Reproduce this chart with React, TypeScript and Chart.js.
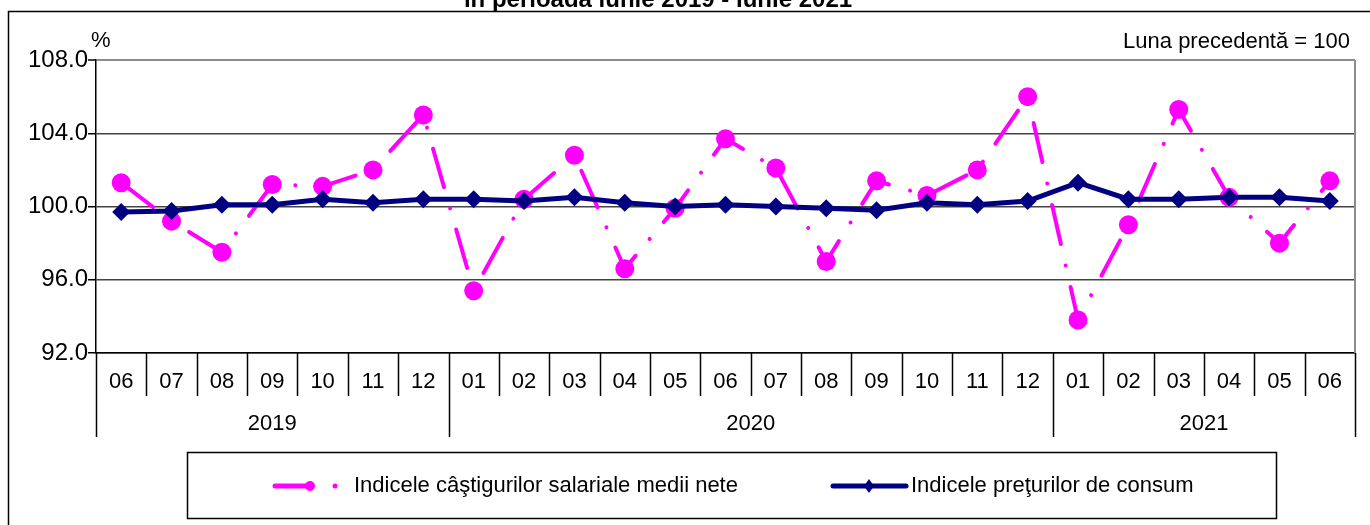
import React, { useEffect, useRef } from 'react';
import { Chart, registerables } from 'chart.js';

Chart.register(...registerables);

const FONT = '"Liberation Sans", Arial, sans-serif';

const TITLE = 'în perioada iunie 2019 - iunie 2021';
const UNIT_LABEL = '%';
const BASE_LABEL = 'Luna precedentă = 100';

const months = ['06', '07', '08', '09', '10', '11', '12', '01', '02', '03', '04', '05', '06', '07', '08', '09', '10', '11', '12', '01', '02', '03', '04', '05', '06'];
const years = ['2019', '2020', '2021'];
const yearStart = [0, 7, 19];
const yearEnd = [6, 18, 24];

const wagesLabel = 'Indicele câştigurilor salariale medii nete';
const cpiLabel = 'Indicele preţurilor de consum';

const wages = [101.3, 99.2, 97.5, 101.2, 101.1, 102.0, 105.0, 95.4, 100.4, 102.8, 96.6, 99.9, 103.7, 102.1, 97.0, 101.4, 100.6, 102.0, 106.0, 93.8, 99.0, 105.3, 100.5, 98.0, 101.4];
const cpi = [99.7, 99.75, 100.1, 100.1, 100.4, 100.2, 100.4, 100.4, 100.3, 100.5, 100.2, 100.0, 100.1, 100.0, 99.9, 99.8, 100.2, 100.1, 100.3, 101.3, 100.4, 100.4, 100.5, 100.5, 100.3];

const Y_MIN = 92;
const Y_MAX = 108;
const Y_STEP = 4;

const PINK = '#FF00FF';
const NAVY = '#000080';

const extrasPlugin = {
  id: 'extras',
  afterDraw(chart: any) {
    const { ctx, chartArea, scales } = chart;
    const x = scales.x;
    const bottom = chartArea.bottom;
    ctx.save();

    // outer frame
    ctx.strokeStyle = '#000';
    ctx.lineWidth = 1.5;
    ctx.beginPath();
    ctx.moveTo(1370, 11.5);
    ctx.lineTo(8.5, 11.5);
    ctx.lineTo(8.5, 525);
    ctx.stroke();

    // title (clipped at top)
    ctx.fillStyle = '#000';
    ctx.font = `bold 24px ${FONT}`;
    ctx.textAlign = 'center';
    ctx.textBaseline = 'alphabetic';
    ctx.fillText(TITLE, 658, 7);

    // unit + base text
    ctx.font = `22px ${FONT}`;
    ctx.textAlign = 'left';
    ctx.textBaseline = 'middle';
    ctx.fillText(UNIT_LABEL, 91, 41);
    ctx.textAlign = 'right';
    ctx.fillText(BASE_LABEL, 1350, 42);

    // right plot border
    ctx.strokeStyle = '#8c8c8c';
    ctx.lineWidth = 2;
    ctx.beginPath();
    ctx.moveTo(chartArea.right, chartArea.top);
    ctx.lineTo(chartArea.right, bottom);
    ctx.stroke();

    // category separators
    const step = x.getPixelForValue(1) - x.getPixelForValue(0);
    ctx.strokeStyle = '#000';
    ctx.lineWidth = 1.5;
    for (let i = 0; i <= months.length; i++) {
      const bx = Math.round(x.getPixelForValue(i) - step / 2) + 0.5;
      const isYear = i === 0 || i === months.length || yearStart.indexOf(i) >= 0;
      ctx.beginPath();
      ctx.moveTo(bx, bottom);
      ctx.lineTo(bx, bottom + (isYear ? 84 : 43));
      ctx.stroke();
    }

    // year labels
    ctx.font = `22px ${FONT}`;
    ctx.textAlign = 'center';
    ctx.textBaseline = 'middle';
    ctx.fillStyle = '#000';
    for (let k = 0; k < years.length; k++) {
      const cx = (x.getPixelForValue(yearStart[k]) + x.getPixelForValue(yearEnd[k])) / 2;
      ctx.fillText(years[k], cx, bottom + 71);
    }

    // legend
    ctx.lineWidth = 1.5;
    ctx.strokeStyle = '#000';
    ctx.strokeRect(187.5, 452.5, 1089, 66);
    const ly = 486;
    ctx.font = `22px ${FONT}`;
    ctx.textAlign = 'left';
    ctx.textBaseline = 'middle';
    // wages sample
    ctx.strokeStyle = PINK;
    ctx.fillStyle = PINK;
    ctx.lineWidth = 5;
    ctx.lineCap = 'round';
    ctx.beginPath();
    ctx.moveTo(275, ly);
    ctx.lineTo(310, ly);
    ctx.stroke();
    ctx.beginPath();
    ctx.arc(310, ly, 5, 0, Math.PI * 2);
    ctx.fill();
    ctx.beginPath();
    ctx.arc(335, ly, 2.5, 0, Math.PI * 2);
    ctx.fill();
    ctx.fillStyle = '#000';
    ctx.fillText(wagesLabel, 354, ly);
    // cpi sample
    ctx.strokeStyle = NAVY;
    ctx.fillStyle = NAVY;
    ctx.lineWidth = 5;
    ctx.beginPath();
    ctx.moveTo(833, ly);
    ctx.lineTo(906, ly);
    ctx.stroke();
    ctx.beginPath();
    ctx.moveTo(869, ly - 7);
    ctx.lineTo(874, ly);
    ctx.lineTo(869, ly + 7);
    ctx.lineTo(864, ly);
    ctx.closePath();
    ctx.fill();
    ctx.fillStyle = '#000';
    ctx.fillText(cpiLabel, 911, ly);

    ctx.restore();
  },
};

export default function App() {
  const canvasRef = useRef<HTMLCanvasElement | null>(null);

  useEffect(() => {
    const canvas = canvasRef.current;
    if (!canvas) return;
    const chart = new Chart(canvas, {
      type: 'line',
      data: {
        labels: months,
        datasets: [
          {
            label: wagesLabel,
            data: wages,
            borderColor: PINK,
            backgroundColor: PINK,
            borderWidth: 4,
            borderDash: [40, 22, 0.01, 22],
            borderCapStyle: 'round',
            pointStyle: 'circle',
            pointRadius: 9.5,
            pointBackgroundColor: PINK,
            pointBorderColor: PINK,
            pointBorderWidth: 0,
            tension: 0,
            order: 1,
          },
          {
            label: cpiLabel,
            data: cpi,
            borderColor: NAVY,
            backgroundColor: NAVY,
            borderWidth: 5,
            pointStyle: 'rectRot',
            pointRadius: 9,
            pointBackgroundColor: NAVY,
            pointBorderColor: NAVY,
            pointBorderWidth: 0,
            tension: 0,
            order: 0,
          },
        ],
      },
      options: {
        animation: false,
        responsive: false,
        events: [],
        layout: { padding: { left: 10, right: 15, top: 60, bottom: 87 } },
        plugins: {
          legend: { display: false },
          title: { display: false },
          tooltip: { enabled: false },
        },
        scales: {
          x: {
            type: 'category',
            offset: true,
            grid: { display: false, drawTicks: false, offset: true },
            border: { display: true, color: '#000', width: 1.5 },
            ticks: {
              autoSkip: false,
              maxRotation: 0,
              minRotation: 0,
              padding: 16,
              color: '#000',
              font: { family: FONT, size: 22 },
            },
            afterFit: (scale: any) => {
              scale.height = 85;
            },
          },
          y: {
            min: Y_MIN,
            max: Y_MAX,
            ticks: {
              stepSize: Y_STEP,
              padding: 0,
              color: '#000',
              font: { family: FONT, size: 24 },
              callback: (v: any) => Number(v).toFixed(1),
            },
            grid: {
              color: (c: any) => (c.tick && c.tick.value === Y_MAX ? '#8c8c8c' : '#444'),
              lineWidth: (c: any) => (c.tick && c.tick.value === Y_MAX ? 2 : 1.5),
              drawTicks: true,
              tickLength: 8,
              tickColor: '#000',
              tickWidth: 1.5,
            },
            border: { display: true, color: '#000', width: 1.5 },
            afterFit: (scale: any) => {
              scale.width = 86;
            },
          },
        },
      },
      plugins: [extrasPlugin],
    });
    return () => chart.destroy();
  }, []);

  return (
    <div style={{ position: 'absolute', left: 0, top: 0, width: 1370, height: 525, background: '#fff' }}>
      <canvas ref={canvasRef} width={1370} height={525} style={{ display: 'block' }} />
    </div>
  );
}
